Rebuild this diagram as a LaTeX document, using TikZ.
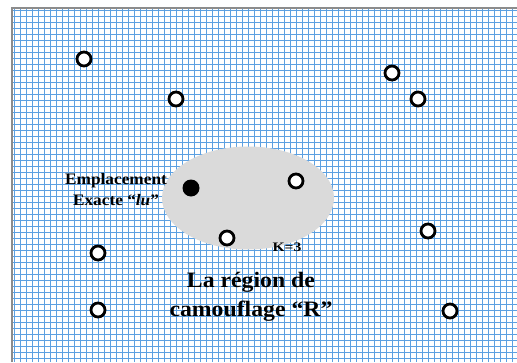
\documentclass[tikz,border=0pt]{standalone}
\usepackage{fontspec}
\setmainfont{Liberation Serif}
\newfontfamily\labelfont[FakeStretch=1.08]{Liberation Serif}
\newfontfamily\smallfont[FakeStretch=1.2]{Liberation Serif}
\usetikzlibrary{shapes.geometric}
\definecolor{gridblue}{RGB}{92,160,225}
\definecolor{framegray}{RGB}{140,140,140}
\definecolor{regiongray}{RGB}{218,218,218}
\begin{document}
\begin{tikzpicture}[x=1pt,y=-1pt,
  gridline/.style={gridblue,line width=1pt},
  site/.style={circle,draw=black,fill=white,line width=2.8pt,minimum size=14pt,inner sep=0pt},
  userpos/.style={circle,fill=black,minimum size=17pt,inner sep=0pt},
  region/.style={ellipse,fill=regiongray,minimum width=172pt,minimum height=103pt,inner sep=0pt},
  caption/.style={align=center,inner sep=0pt,anchor=base}]
\useasboundingbox (0,0) rectangle (517,362);
\fill[white] (0,0) rectangle (517,362);
% squared paper
\foreach \i in {0,...,83} \draw[gridline] ({14.5+6*\i},8) -- ({14.5+6*\i},362);
\foreach \j in {0,...,58} \draw[gridline] (12,{10.5+6*\j}) -- (517,{10.5+6*\j});
\draw[framegray,line width=2pt] (12,362) -- (12,8) -- (517,8);
% camouflage region
\node[region] (R) at (248,198) {};
% candidate locations
\node[site] (p1) at (84,59) {};
\node[site] (p2) at (176,99) {};
\node[site] (p3) at (392,73) {};
\node[site] (p4) at (418,99) {};
\node[site] (p5) at (296,181) {};
\node[site] (p6) at (227,238) {};
\node[site] (p7) at (428,231) {};
\node[site] (p8) at (98,253) {};
\node[site] (p9) at (98,310) {};
\node[site] (p10) at (450,311) {};
% exact user location
\node[userpos] (lu) at (191,188) {};
% labels (base anchor sits on the last line)
\node[caption,font=\labelfont\bfseries\fontsize{16}{21}\selectfont] (lab1) at (116,205) {Emplacement\\Exacte “\textit{lu}”};
\node[caption,font=\smallfont\bfseries\fontsize{13}{14}\selectfont] (k) at (287,251) {K=3};
\node[caption,font=\labelfont\bfseries\fontsize{22}{29}\selectfont] (lab2) at (251,316) {La région de\\camouflage “R”};
\end{tikzpicture}
\end{document}
